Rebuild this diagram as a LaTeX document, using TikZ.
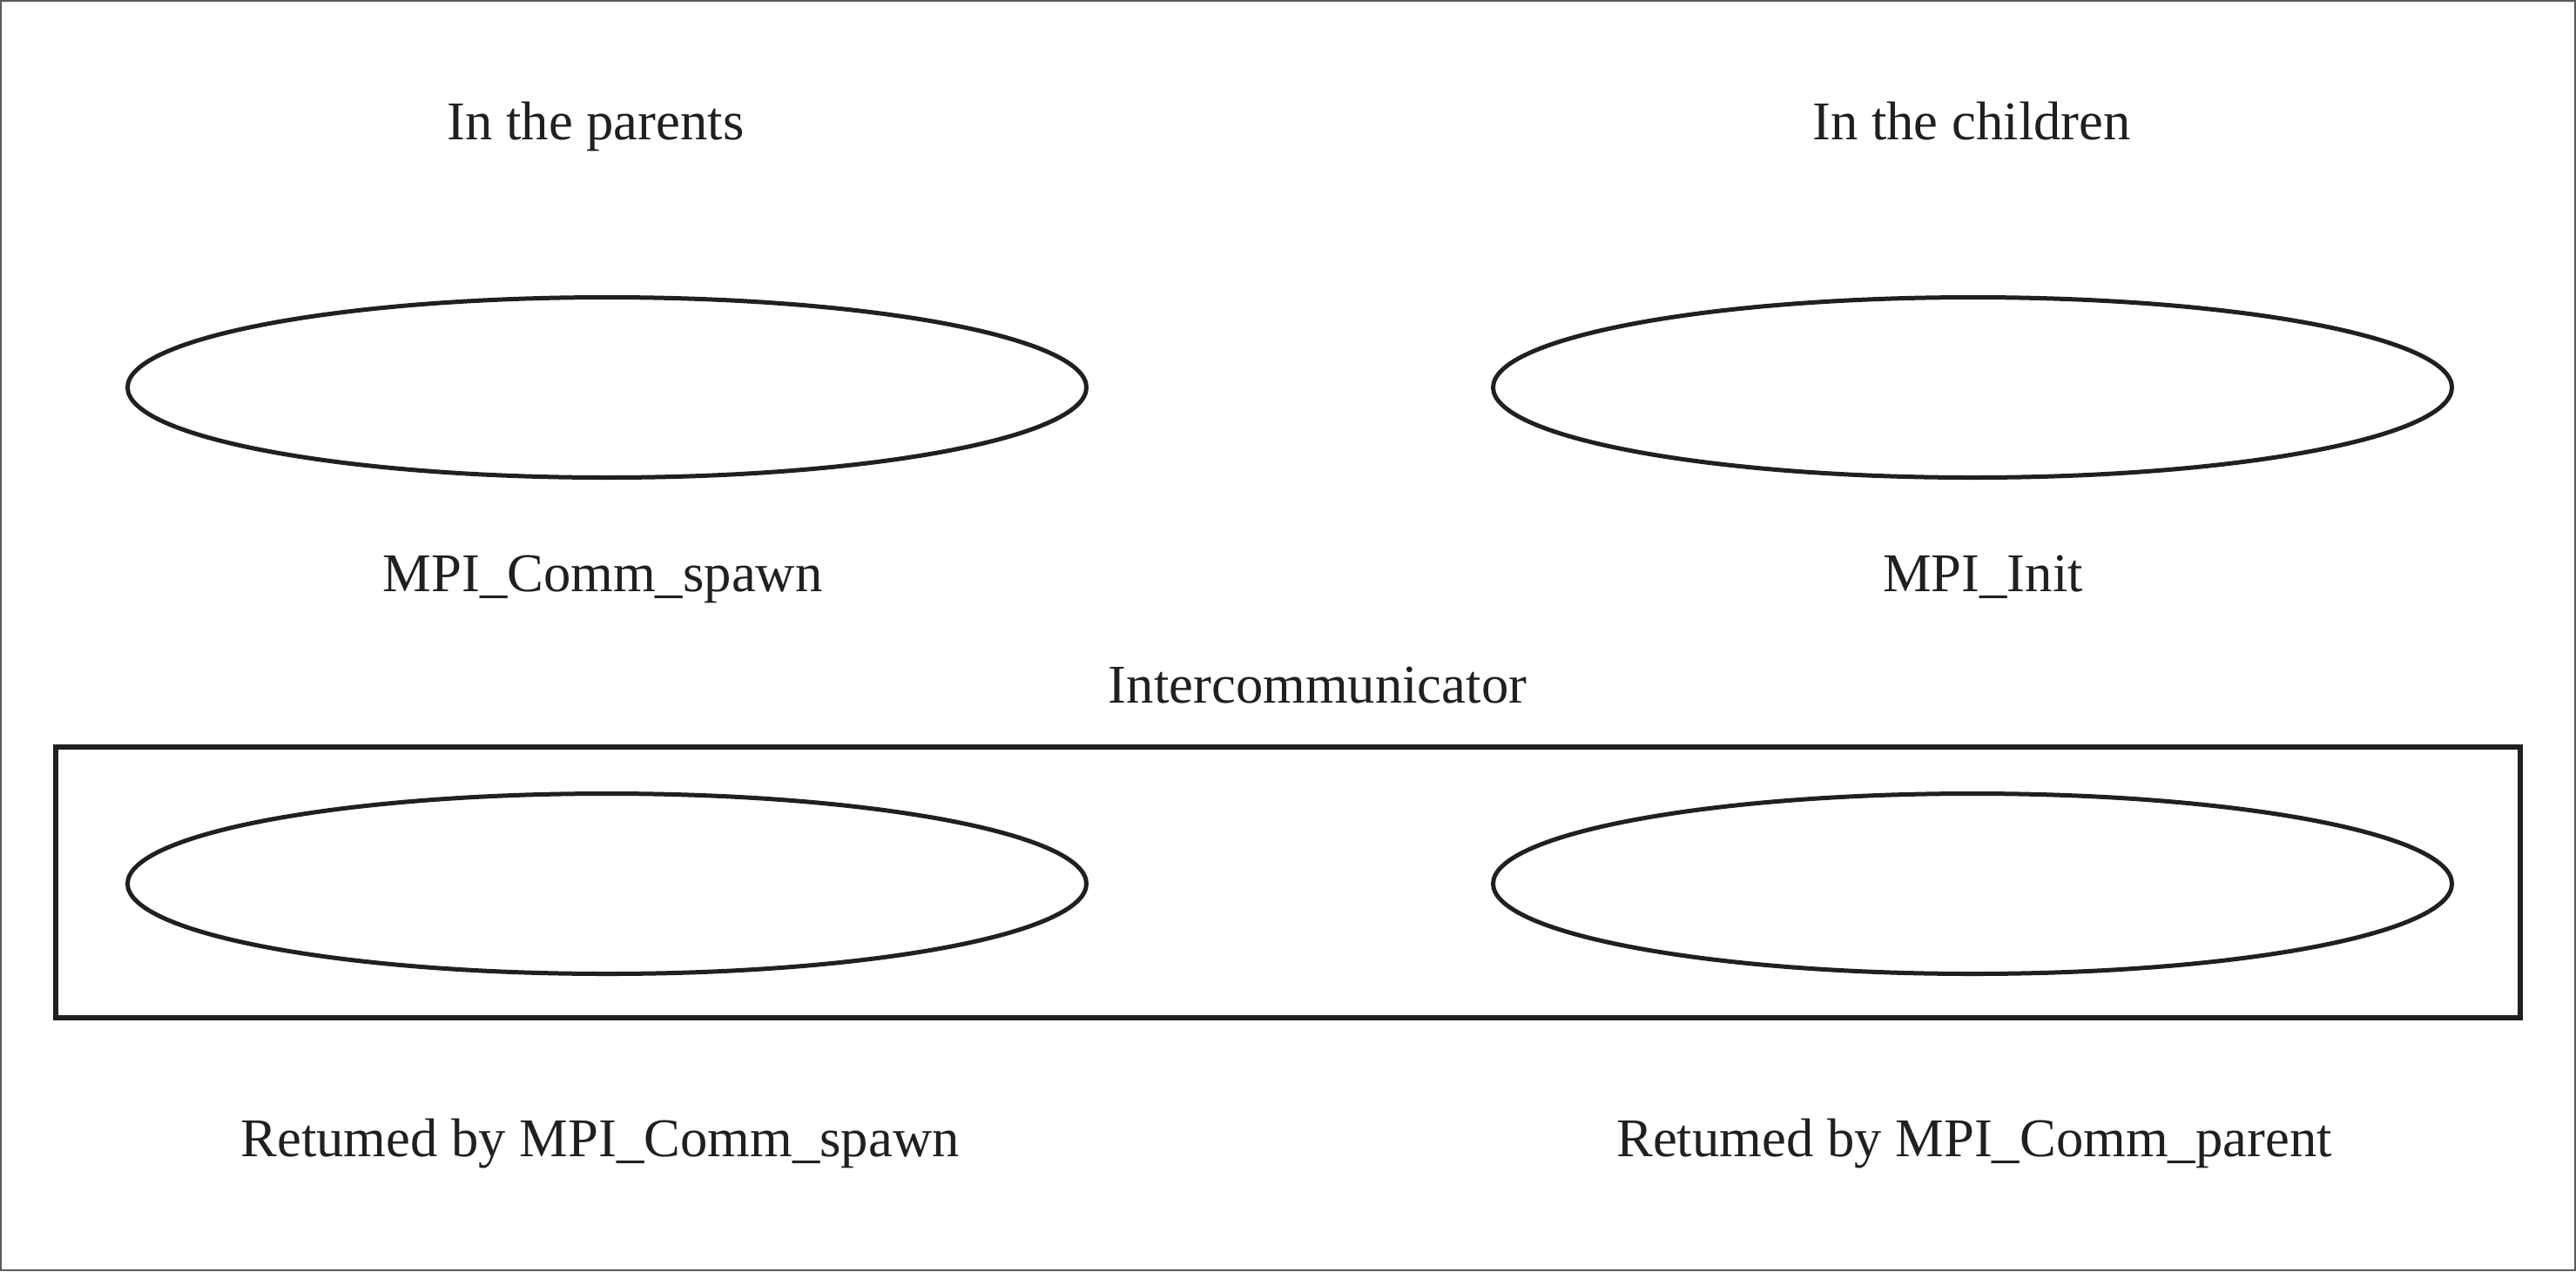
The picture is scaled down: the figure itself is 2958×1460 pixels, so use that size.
\documentclass[tikz,border=0pt]{standalone}
\usepackage{fontspec}
\setmainfont{Liberation Serif}
\usetikzlibrary{shapes.geometric}
\definecolor{ink}{RGB}{35,31,32}
\definecolor{frame}{RGB}{90,90,90}
\begin{document}
\begin{tikzpicture}[x=0.3pt,y=-0.3pt,
  lbl/.style={font=\fontsize{18.8}{22}\selectfont, text=ink, anchor=base, inner sep=0pt},
  proc/.style={draw=ink, line width=1.5pt, ellipse, minimum width=1106*0.3pt-1.5pt, minimum height=212*0.3pt-1.5pt, inner sep=0pt},
  inter/.style={draw=ink, line width=1.8pt}]
\useasboundingbox (0,0) rectangle (2958,1460);
\draw[frame, line width=0.6pt] (1,1) rectangle (2957,1459);
\node[lbl] (tp) at (684,160) {In the parents};
\node[lbl] (tc) at (2264,160) {In the children};
\node[proc] (e1) at (697,445) {};
\node[proc] (e2) at (2265,445) {};
\node[lbl] (l1) at (692,679) {MPI\_Comm\_spawn};
\node[lbl] (l2) at (2277,679) {MPI\_Init};
\node[lbl] (ic) at (1513,807) {Intercommunicator};
\draw[inter] (64,858) rectangle (2894,1169);
\node[proc] (e3) at (697,1015) {};
\node[proc] (e4) at (2265,1015) {};
\node[lbl] (r1) at (689,1328) {Retumed by MPI\_Comm\_spawn};
\node[lbl] (r2) at (2267,1328) {Retumed by MPI\_Comm\_parent};
\end{tikzpicture}
\end{document}
